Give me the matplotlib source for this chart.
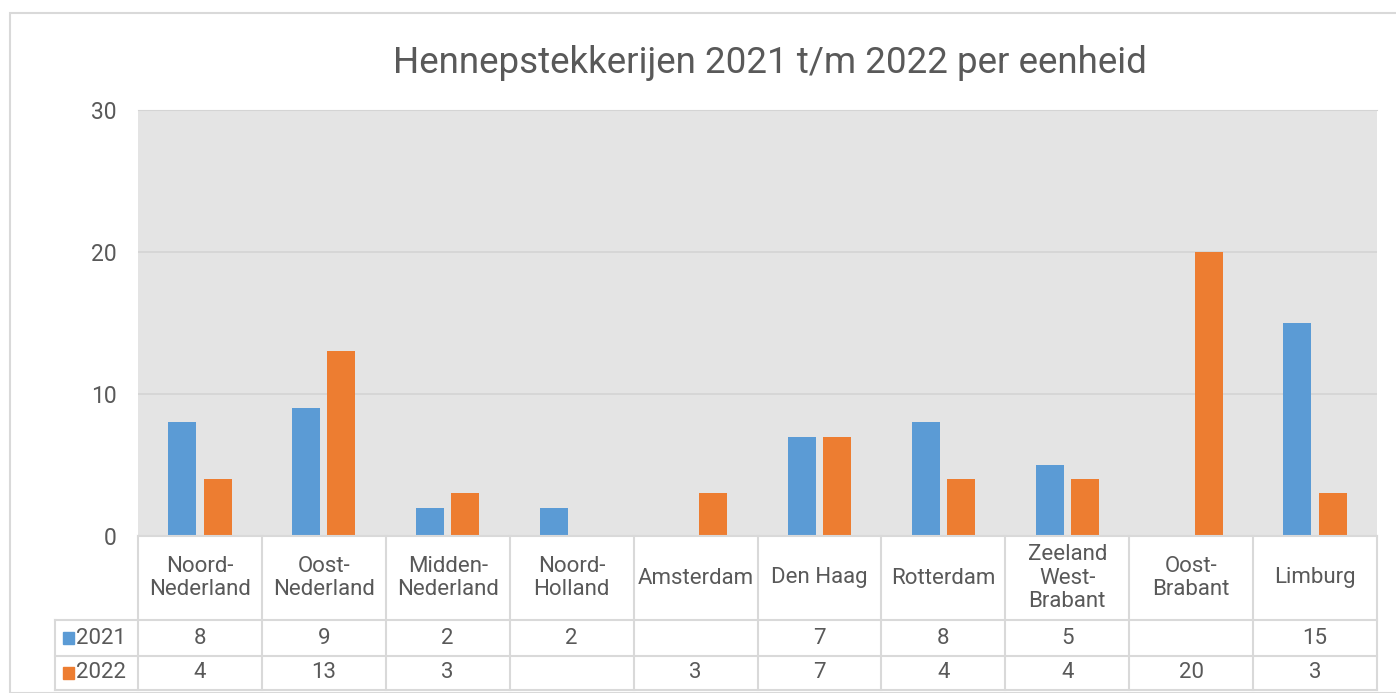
import matplotlib
matplotlib.use("Agg")
import matplotlib.pyplot as plt
import matplotlib.transforms as mtransforms
from matplotlib.patches import Rectangle
import numpy as np

plt.rcParams['font.family'] = ['Roboto', 'DejaVu Sans']

title = "Hennepstekkerijen 2021 t/m 2022 per eenheid"
categories = ["Noord-\nNederland", "Oost-\nNederland", "Midden-\nNederland", "Noord-\nHolland",
              "Amsterdam", "Den Haag", "Rotterdam", "Zeeland\nWest-\nBrabant", "Oost-\nBrabant", "Limburg"]
series_names = ["2021", "2022"]
values_2021 = [8, 9, 2, 2, None, 7, 8, 5, None, 15]
values_2022 = [4, 13, 3, None, 3, 7, 4, 4, 20, 3]
yticks = [0, 10, 20, 30]

colors = ["#5b9bd5", "#ed7d31"]
text_color = "#595959"
grid_color = "#d4d4d4"
line_color = "#d9d9d9"

W, H = 1396, 693
fig = plt.figure(figsize=(W / 100, H / 100), dpi=100)
fig.patch.set_facecolor("white")

# outer chart border
fig.add_artist(Rectangle((10 / W, 0), 1.2, 1 - 13 / H, transform=fig.transFigure,
                         fill=False, edgecolor=line_color, linewidth=1.5))

left, right, top, bottom = 138, 1377, 110, 536
ax = fig.add_axes([left / W, 1 - bottom / H, (right - left) / W, (bottom - top) / H])
ax.set_facecolor("#e4e4e4")

n = len(categories)
x = np.arange(n)
bw = 0.226
off = 0.142
all_series = [values_2021, values_2022]
for i, vals in enumerate(all_series):
    v = np.array([np.nan if a is None else a for a in vals], dtype=float)
    ax.bar(x + (i - 0.5) * 2 * off, np.nan_to_num(v), width=bw, color=colors[i], zorder=3)

ax.set_xlim(-0.5, n - 0.5)
ax.set_ylim(0, 30)
ax.set_yticks(yticks)
ax.set_yticklabels([str(t) for t in yticks], fontsize=16.5, color=text_color)
ax.tick_params(axis='y', length=0, pad=15.5)
ax.set_xticks([])
ax.yaxis.grid(True, color=grid_color, linewidth=1.2, zorder=0)
for s in ax.spines.values():
    s.set_visible(False)
ax.spines['top'].set_visible(True)
ax.spines['top'].set_color(grid_color)

fig.text(770 / W, 1 - 63 / H, title, ha='center', va='center', fontsize=26.5, color=text_color)

# data table
trans = mtransforms.blended_transform_factory(ax.transData, ax.transAxes)
ah = bottom - top
y_hdr_bot = -(620 - bottom) / ah
y_r1_bot = -(656 - bottom) / ah
y_r2_bot = -(690 - bottom) / ah
x_leg = -0.5 - (left - 55) / ((right - left) / n)

lk = dict(color=line_color, linewidth=1.5, transform=trans, clip_on=False, zorder=5)
# horizontal lines
ax.plot([-0.5, n - 0.5], [0, 0], **lk)
for yy in [y_hdr_bot, y_r1_bot, y_r2_bot]:
    ax.plot([x_leg, n - 0.5], [yy, yy], **lk)
# vertical lines
for k in range(n + 1):
    ax.plot([k - 0.5, k - 0.5], [0, y_r2_bot], **lk)
ax.plot([x_leg, x_leg], [y_hdr_bot, y_r2_bot], **lk)

tk = dict(transform=trans, ha='center', va='center', color=text_color, fontsize=16, clip_on=False)
for k, c in enumerate(categories):
    ax.text(k, y_hdr_bot / 2, c, linespacing=1.15, **tk)
rows = [(values_2021, (y_hdr_bot + y_r1_bot) / 2), (values_2022, (y_r1_bot + y_r2_bot) / 2)]
for i, (vals, yc) in enumerate(rows):
    for k, v in enumerate(vals):
        if v is not None:
            ax.text(k, yc, str(v), **tk)
    # legend key
    xs = x_leg + 0.065
    ax.add_patch(Rectangle((xs, yc - 0.0135), 0.085, 0.027, transform=trans,
                           color=colors[i], clip_on=False, zorder=6))
    ax.text(xs + 0.105, yc, series_names[i], transform=trans, ha='left', va='center',
            color=text_color, fontsize=16, clip_on=False)

fig.savefig("out.png", dpi=100)
